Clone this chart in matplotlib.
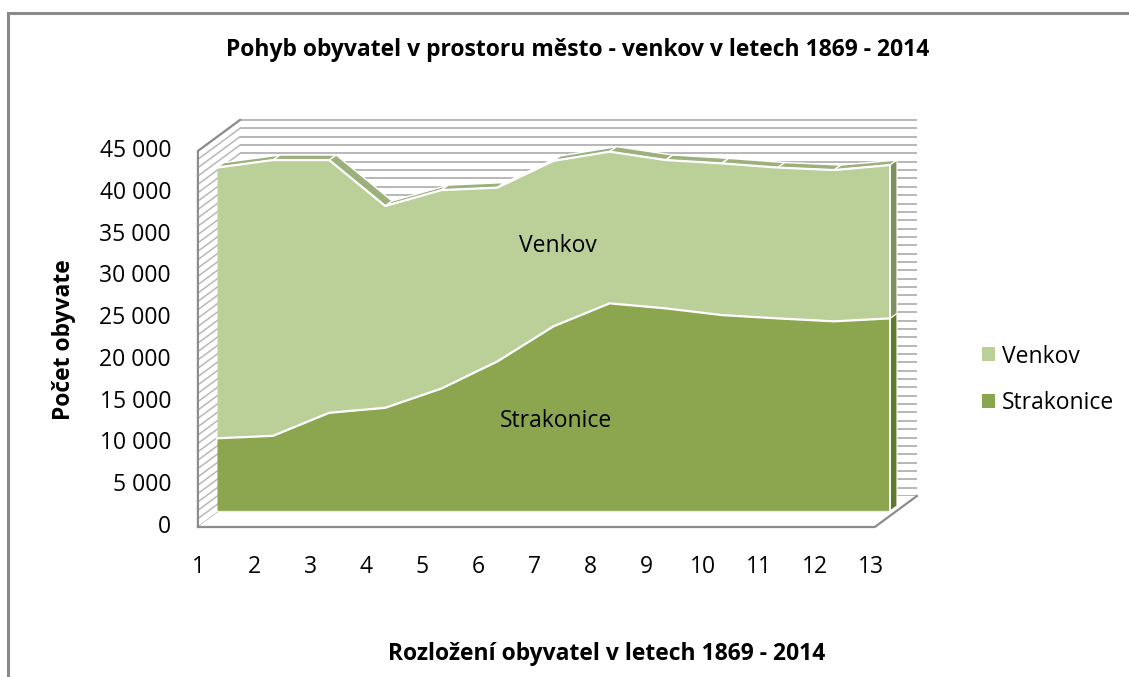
import matplotlib.pyplot as plt
from matplotlib.patches import Polygon, Rectangle
import numpy as np

# data (order 1..13, years 1869 - 2014)
obdobi = list(range(1, 14))
strakonice = [8700, 9000, 11750, 12350, 14650, 17900, 22100, 24850, 24250, 23450, 23050, 22700, 23050]
venkov = [32400, 33000, 30250, 24150, 23750, 20800, 19800, 18150, 17750, 18150, 18050, 18100, 18350]
y_ticks = list(range(0, 45001, 5000))
y_labels = [f"{t:,}".replace(",", " ") for t in y_ticks]
x_labels = [str(i) for i in obdobi]

c_venkov = '#bbcf99'
c_strak = '#8ba64f'
c_venkov_top = '#9bb07a'
c_venkov_side = '#7e9060'
c_strak_side = '#5e7a2e'
c_grid = '#b8b8b8'
c_edge = '#8c8c8c'

plt.rcParams['font.family'] = ['Open Sans', 'DejaVu Sans']
fs = 16.5

W, H = 1129, 677
fig = plt.figure(figsize=(W / 100, H / 100), dpi=100)
ax = fig.add_axes([0, 0, 1, 1])
# series plane: category 1 -> px 217, 56.08 px per category; value 0 -> px 511
pxx, pxy = 56.08, 0.008356
xmin = 1 - 217 / pxx
ymax = 511 / pxy
ax.set_xlim(xmin, xmin + W / pxx)
ax.set_ylim(ymax - H / pxy, ymax)
ax.axis('off')


def fx(px):
    return px / W


def fy(py):
    return 1 - py / H


# 3d box geometry (front plane, depth vector)
vmax = 45000
xf0, xf1 = 1 - 0.34, 13 - 0.27
vf = -1915
ddx, ddv = 0.75, 3710
# series thickness
sdx, sdv = 0.125, 600

# outer chart border
fig.patches.append(Rectangle((fx(8), fy(700)), fx(1140), fy(13) - fy(700),
                             transform=fig.transFigure, fill=False,
                             edgecolor='#8a8a8a', linewidth=2.2))

# back wall and left wall gridlines
for t in range(0, vmax + 1, 1000):
    ax.plot([xf0 + ddx, xf1 + ddx], [t + vf + ddv] * 2, color=c_grid, lw=1.4, zorder=1,
            solid_capstyle='butt')
    ax.plot([xf0, xf0 + ddx], [t + vf, t + vf + ddv], color=c_grid, lw=1.1, zorder=1)

# floor
ax.add_patch(Polygon([(xf0, vf), (xf1, vf), (xf1 + ddx, vf + ddv), (xf0 + ddx, vf + ddv)],
                     closed=True, facecolor='white', edgecolor='none', zorder=2))
ax.plot([xf0, xf1, xf1 + ddx], [vf, vf, vf + ddv], color=c_edge, lw=1.6, zorder=2)
ax.plot([xf0, xf0, xf0 + ddx], [vf, vmax + vf, vmax + vf + ddv], color=c_edge, lw=1.6, zorder=2)

x = np.array(obdobi, dtype=float)
s = np.array(strakonice, dtype=float)
total = s + np.array(venkov, dtype=float)

# top ribbon of the area
for i in range(len(x) - 1):
    ax.add_patch(Polygon([(x[i], total[i]), (x[i + 1], total[i + 1]),
                          (x[i + 1] + sdx, total[i + 1] + sdv), (x[i] + sdx, total[i] + sdv)],
                         closed=True, facecolor=c_venkov_top, edgecolor='white', lw=1.0, zorder=3))
# right side faces
ax.add_patch(Polygon([(x[-1], 0), (x[-1], s[-1]), (x[-1] + sdx, s[-1] + sdv), (x[-1] + sdx, sdv)],
                     closed=True, facecolor=c_strak_side, edgecolor='white', lw=0.8, zorder=3))
ax.add_patch(Polygon([(x[-1], s[-1]), (x[-1], total[-1]), (x[-1] + sdx, total[-1] + sdv),
                      (x[-1] + sdx, s[-1] + sdv)],
                     closed=True, facecolor=c_venkov_side, edgecolor='white', lw=0.8, zorder=3))

# front faces
ax.fill_between(x, 0, s, color=c_strak, lw=0, zorder=4, label='Strakonice')
ax.fill_between(x, s, total, color=c_venkov, lw=0, zorder=4, label='Venkov')
ax.plot(x, s, color='white', lw=1.6, zorder=5)
ax.plot(x, total, color='white', lw=1.6, zorder=5)
ax.plot([x[0], x[-1]], [0, 0], color='#e8eedc', lw=1.0, zorder=5)
ax.plot([x[-1], x[-1]], [0, total[-1]], color='white', lw=1.4, zorder=5)

# axis tick labels on the front plane
for t, lab in zip(y_ticks, y_labels):
    ax.text(xf0 - 0.48, t + vf, lab, ha='right', va='center', fontsize=fs, color='black')
for i, lab in zip(obdobi, x_labels):
    ax.text(i - 0.34, vf - 4790, lab, ha='center', va='center', fontsize=fs, color='black')

# data labels
ax.text(558 / pxx + xmin, (511 - 246) / pxy, 'Venkov', ha='center', va='center',
        fontsize=fs, zorder=7)
ax.text(556 / pxx + xmin, (511 - 421) / pxy, 'Strakonice', ha='center', va='center',
        fontsize=fs, zorder=7)

fig.text(fx(578), fy(50), 'Pohyb obyvatel v prostoru město - venkov v letech 1869 - 2014',
         ha='center', va='center', fontsize=16.5, fontweight='bold')
fig.text(fx(607), fy(654), 'Rozložení obyvatel v letech 1869 - 2014',
         ha='center', va='center', fontsize=16.5, fontweight='bold')
fig.text(fx(64), fy(340), 'Počet obyvate', ha='center', va='center', rotation=90,
         fontsize=16.5, fontweight='bold')

# legend
handles, labels = ax.get_legend_handles_labels()
fig.legend(handles[::-1], labels[::-1], loc='center left', bbox_to_anchor=(fx(961), fy(380)),
           frameon=False, fontsize=fs, handlelength=0.57, handleheight=0.57,
           handletextpad=0.3, labelspacing=1.0)

fig.savefig('out.png', dpi=100)
